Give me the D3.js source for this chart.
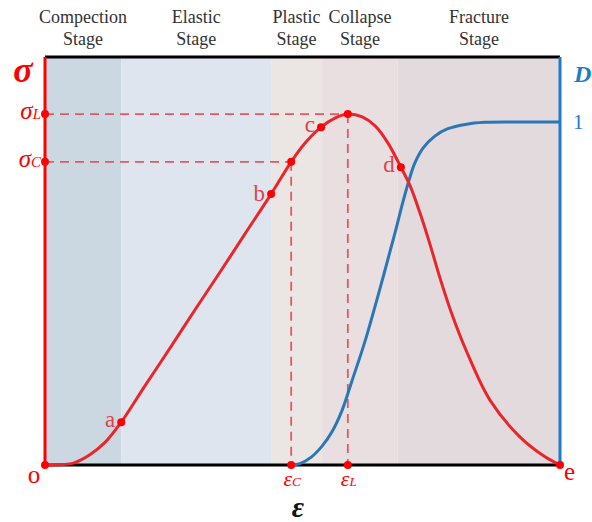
<!DOCTYPE html>
<html>
<head>
<meta charset="utf-8">
<script src="https://cdn.jsdelivr.net/npm/d3@7"></script>
<style>
  html, body { margin: 0; padding: 0; background: #fff; }
  svg { display: block; }
  text { font-family: "Liberation Serif", "Times New Roman", serif; }
</style>
</head>
<body>
<svg id="chart" width="592" height="522"></svg>
<script>
// ---- data ----
// deformation stages (strain boundaries, strain units 0..100)
const stageNames = [["Compection", "Stage"], ["Elastic", "Stage"], ["Plastic", "Stage"], ["Collapse", "Stage"], ["Fracture", "Stage"]];
const stageStart = [0, 14.8, 43.9, 53.8, 68.5];
const stageEnd   = [14.8, 43.9, 53.8, 68.5, 100];
const stageFill  = ["#cbd7e1", "#dee5ee", "#ebe5e3", "#e9dfe0", "#e3dadd"];

// stress–strain curve (σ, relative units)
const stressStrain = [
  [0, 0], [2.9, 0.05], [5.8, 0.6], [8.7, 2.5], [11.7, 5.6], [14.8, 10.5],
  [19.4, 19.4], [24.3, 28.7], [29.1, 38.0], [34.0, 47.3], [38.8, 56.6],
  [43.9, 66.4], [47.8, 74.3], [50.5, 78.9], [53.6, 82.8], [56.3, 85.0],
  [58.8, 86.0], [61.6, 85.3], [64.1, 83.1], [66.6, 78.9], [69.1, 73.0],
  [70.9, 68.4], [72.8, 61.8], [74.8, 53.9], [76.7, 45.8], [79.0, 37.0],
  [81.9, 27.7], [86.4, 15.9], [92.2, 6.9], [97.1, 2.0], [100, 0]
];

// damage variable D vs strain
const damageStrain = [
  [47.8, 0], [49.5, 0.004], [51.7, 0.023], [53.8, 0.055], [55.7, 0.096],
  [57.7, 0.160], [59.6, 0.245], [62.1, 0.359], [65.4, 0.534], [68.0, 0.679],
  [69.5, 0.767], [70.7, 0.831], [71.8, 0.880], [73.4, 0.924], [75.7, 0.959],
  [78.1, 0.980], [81.6, 0.993], [85.4, 0.999], [92.2, 1.0], [100, 1.0]
];

// characteristic points on the stress curve
const labelledPoints = [
  { name: "a", strain: 14.8, stress: 10.5 },
  { name: "b", strain: 43.9, stress: 66.4 },
  { name: "c", strain: 53.6, stress: 82.8 },
  { name: "d", strain: 69.1, stress: 73.0 }
];
const sigmaC = 74.3, epsC = 47.8;   // crack-initiation stress / strain
const sigmaL = 86.0, epsL = 58.8;   // peak stress / strain
const strainEnd = 100;

// ---- layout ----
const svg = d3.select("#chart");
const x = d3.scaleLinear().domain([0, 100]).range([45, 560]);
const yS = d3.scaleLinear().domain([0, 100]).range([465, 57]);
const yD = d3.scaleLinear().domain([0, 1]).range([465, 122]);

const RED = "#ff0000", CURVE_RED = "#e8262c", LABEL_RED = "#e0434b", DASH_RED = "#e2595e";
const BLUE = "#1f7bc8", CURVE_BLUE = "#2b77b6";

// stage bands
svg.append("g").selectAll("rect").data(stageStart).join("rect")
  .attr("x", (d) => x(d))
  .attr("y", yS(100))
  .attr("width", (d, i) => x(stageEnd[i]) - x(d))
  .attr("height", yS(0) - yS(100))
  .attr("fill", (d, i) => stageFill[i]);

// stage titles
const titles = svg.append("g").selectAll("g").data(stageNames).join("g")
  .attr("transform", (d, i) => `translate(${x((stageStart[i] + stageEnd[i]) / 2)},0)`);
titles.append("text").attr("y", 23).attr("text-anchor", "middle")
  .attr("font-size", 18).attr("fill", "#333").text((d) => d[0]);
titles.append("text").attr("y", 45).attr("text-anchor", "middle")
  .attr("font-size", 18).attr("fill", "#333").text((d) => d[1]);

// frame: top and bottom black lines
svg.append("line").attr("x1", x(0)).attr("x2", x(100)).attr("y1", yS(100)).attr("y2", yS(100))
  .attr("stroke", "#000").attr("stroke-width", 3);
svg.append("line").attr("x1", x(0)).attr("x2", x(100)).attr("y1", yS(0)).attr("y2", yS(0))
  .attr("stroke", "#000").attr("stroke-width", 3);

// dashed guides for σC/εC and σL/εL
const guides = svg.append("g").attr("stroke", DASH_RED).attr("stroke-width", 1.8)
  .attr("stroke-dasharray", "9,6").attr("fill", "none");
[[epsC, sigmaC], [epsL, sigmaL]].forEach(([e, s]) => {
  guides.append("line").attr("x1", x(0)).attr("x2", x(e)).attr("y1", yS(s)).attr("y2", yS(s));
  guides.append("line").attr("x1", x(e)).attr("x2", x(e)).attr("y1", yS(s)).attr("y2", yS(0));
});

// damage curve
svg.append("path").datum(damageStrain)
  .attr("d", d3.line().x((d) => x(d[0])).y((d) => yD(d[1])).curve(d3.curveCatmullRom.alpha(0.5)))
  .attr("fill", "none").attr("stroke", CURVE_BLUE).attr("stroke-width", 3);

// stress curve
svg.append("path").datum(stressStrain)
  .attr("d", d3.line().x((d) => x(d[0])).y((d) => yS(d[1])).curve(d3.curveCatmullRom.alpha(0.5)))
  .attr("fill", "none").attr("stroke", CURVE_RED).attr("stroke-width", 3);

// side axes
svg.append("line").attr("x1", x(0)).attr("x2", x(0)).attr("y1", yS(100)).attr("y2", yS(0))
  .attr("stroke", RED).attr("stroke-width", 3);
svg.append("line").attr("x1", x(100)).attr("x2", x(100)).attr("y1", yS(100)).attr("y2", yS(0))
  .attr("stroke", BLUE).attr("stroke-width", 3);

// dots
const dots = [
  [0, 0], [strainEnd, 0], [0, sigmaL], [0, sigmaC], [epsC, 0], [epsL, 0],
  [epsC, sigmaC], [epsL, sigmaL], ...labelledPoints.map((p) => [p.strain, p.stress])
];
svg.append("g").selectAll("circle").data(dots).join("circle")
  .attr("cx", (d) => x(d[0])).attr("cy", (d) => yS(d[1])).attr("r", 4).attr("fill", RED);

// point letters
svg.append("g").selectAll("text").data(labelledPoints).join("text")
  .attr("x", (d) => x(d.strain) - 6).attr("y", (d) => yS(d.stress) + (d.name === "b" ? 7 : 5))
  .attr("text-anchor", "end").attr("font-size", 23).attr("fill", LABEL_RED)
  .text((d) => d.name);

// σ / D axis titles
svg.append("text").attr("x", 23).attr("y", 82).attr("text-anchor", "middle")
  .attr("font-size", 36).attr("font-weight", "bold").attr("font-style", "italic")
  .attr("fill", RED).text("σ");
svg.append("text").attr("x", 574).attr("y", 82)
  .attr("font-size", 24).attr("font-weight", "bold").attr("font-style", "italic")
  .attr("fill", BLUE).text("D");
svg.append("text").attr("x", 573).attr("y", yD(1) + 7)
  .attr("font-size", 21).attr("fill", BLUE).text("1");

// σL and σC tick labels
function subLabel(sel, main, sub, size) {
  sel.append("tspan").attr("font-size", size).text(main);
  sel.append("tspan").attr("font-size", size * 0.6).text(sub);
}
[[sigmaL, "L"], [sigmaC, "C"]].forEach(([s, sub]) => {
  const t = svg.append("text").attr("x", 41).attr("y", yS(s) + 5).attr("text-anchor", "end")
    .attr("font-style", "italic").attr("fill", RED);
  subLabel(t, "σ", sub, 25);
});
[[epsC, "C"], [epsL, "L"]].forEach(([e, sub]) => {
  const t = svg.append("text").attr("x", x(e) + 1).attr("y", yS(0) + 21).attr("text-anchor", "middle")
    .attr("font-style", "italic").attr("fill", RED);
  subLabel(t, "ε", sub, 22);
});

// o and e end labels
svg.append("text").attr("x", 34).attr("y", 483).attr("text-anchor", "middle")
  .attr("font-size", 25).attr("fill", RED).text("o");
svg.append("text").attr("x", 564).attr("y", 480)
  .attr("font-size", 25).attr("fill", RED).text("e");

// strain axis title
svg.append("text").attr("x", 298).attr("y", 517).attr("text-anchor", "middle")
  .attr("font-size", 30).attr("font-weight", "bold").attr("font-style", "italic")
  .attr("fill", "#111").text("ε");
</script>
</body>
</html>
